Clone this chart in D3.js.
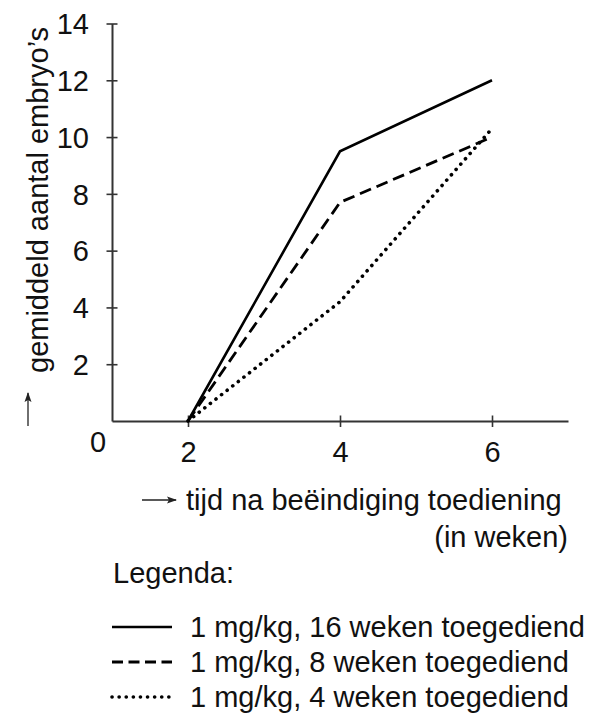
<!DOCTYPE html>
<html>
<head>
<meta charset="utf-8">
<script src="https://cdn.jsdelivr.net/npm/d3@7"></script>
<style>
  html, body { margin: 0; padding: 0; background: #fff; }
  svg { display: block; font-family: "Liberation Sans", Arial, sans-serif; }
</style>
</head>
<body>
<svg id="chart" width="592" height="716"></svg>
<script>
// ---- data ----
const weeks = [2, 4, 6];
const xTicks = [2, 4, 6];
const yTicks = [2, 4, 6, 8, 10, 12, 14];
const series16 = [0, 9.5, 12.0];
const series8 = [0, 7.7, 10.0];
const series4 = [0, 4.2, 10.3];
const seriesNames = [
  "1 mg/kg, 16 weken toegediend",
  "1 mg/kg, 8 weken toegediend",
  "1 mg/kg, 4 weken toegediend"
];
const yTitle = "gemiddeld aantal embryo\u2019s";
const xTitle1 = "tijd na be\u00EBindiging toediening";
const xTitle2 = "(in weken)";
const legendTitle = "Legenda:";

// ---- layout ----
const FS = 29;
const svg = d3.select("#chart");
const x = d3.scaleLinear().domain([1, 7]).range([112, 568]);
const y = d3.scaleLinear().domain([0, 14]).range([421, 23.5]);
const axisColor = "#333";
const styles = [
  { dash: null, cap: "butt", width: 2.6 },
  { dash: "12 6", cap: "butt", width: 2.8 },
  { dash: "0.1 7", cap: "round", width: 3.6 }
];
const allSeries = [series16, series8, series4];

// axes
const yAxis = svg.append("g").attr("transform", `translate(${x(1)},0)`)
  .call(d3.axisLeft(y).tickValues(yTicks).tickFormat(d3.format("d")).tickSizeOuter(0).tickSizeInner(6));
yAxis.select(".domain").attr("stroke", axisColor).attr("stroke-width", 2);
yAxis.selectAll(".tick line").attr("x1", 5.5).attr("x2", -5.5).attr("stroke", axisColor).attr("stroke-width", 1.6);
yAxis.selectAll(".tick text").attr("x", -23).attr("dy", "0.35em")
  .attr("font-size", FS).attr("fill", "#111").attr("font-family", "Liberation Sans, Arial, sans-serif");

const xAxis = svg.append("g").attr("transform", `translate(0,${y(0)})`)
  .call(d3.axisBottom(x).tickValues(xTicks).tickFormat(d3.format("d")).tickSizeOuter(0).tickSizeInner(6));
xAxis.select(".domain").attr("stroke", axisColor).attr("stroke-width", 2);
xAxis.selectAll(".tick line").attr("y1", -5.5).attr("y2", 6).attr("stroke", axisColor).attr("stroke-width", 1.6);
xAxis.selectAll(".tick text").attr("y", 41).attr("dy", 0)
  .attr("font-size", FS).attr("fill", "#111").attr("font-family", "Liberation Sans, Arial, sans-serif");

// origin label
svg.append("text").attr("x", 98).attr("y", 452).attr("text-anchor", "middle")
  .attr("font-size", FS).attr("fill", "#111").text("0");

// lines
const line = d3.line().x((d, i) => x(weeks[i])).y(d => y(d));
allSeries.forEach((s, k) => {
  svg.append("path").datum(s).attr("d", line)
    .attr("fill", "none").attr("stroke", "#000")
    .attr("stroke-width", styles[k].width)
    .attr("stroke-linecap", styles[k].cap)
    .attr("stroke-linejoin", "miter")
    .attr("stroke-dasharray", styles[k].dash);
});

// arrow marker
svg.append("defs").append("marker").attr("id", "ah")
  .attr("viewBox", "0 0 10 10").attr("refX", 9).attr("refY", 5)
  .attr("markerWidth", 10).attr("markerHeight", 10).attr("markerUnits", "userSpaceOnUse")
  .attr("orient", "auto")
  .append("path").attr("d", "M0,1.5 L10,5 L0,8.5 L2,5 Z").attr("fill", "#222");

// y title
svg.append("line").attr("x1", 28).attr("x2", 28).attr("y1", 426).attr("y2", 393)
  .attr("stroke", "#222").attr("stroke-width", 1.3).attr("marker-end", "url(#ah)");
svg.append("text").attr("transform", "translate(48,373) rotate(-90)")
  .attr("font-size", FS).attr("fill", "#111").text(yTitle);

// x title
svg.append("line").attr("x1", 142).attr("x2", 176).attr("y1", 500).attr("y2", 500)
  .attr("stroke", "#222").attr("stroke-width", 1.3).attr("marker-end", "url(#ah)");
svg.append("text").attr("x", 186).attr("y", 510).attr("font-size", FS).attr("fill", "#111").text(xTitle1);
svg.append("text").attr("x", 568).attr("y", 547).attr("text-anchor", "end")
  .attr("font-size", FS).attr("fill", "#111").text(xTitle2);

// legend
svg.append("text").attr("x", 113).attr("y", 583).attr("font-size", FS).attr("fill", "#111").text(legendTitle);
const rowY = [627, 662, 697];
seriesNames.forEach((name, k) => {
  svg.append("line").attr("x1", 112).attr("x2", 172).attr("y1", rowY[k]).attr("y2", rowY[k])
    .attr("stroke", "#000").attr("stroke-width", styles[k].width)
    .attr("stroke-linecap", styles[k].cap)
    .attr("stroke-dasharray", k === 1 ? "11 5.5" : styles[k].dash);
  svg.append("text").attr("x", 190).attr("y", rowY[k] + 10).attr("font-size", FS)
    .attr("fill", "#111").text(name);
});
</script>
</body>
</html>
